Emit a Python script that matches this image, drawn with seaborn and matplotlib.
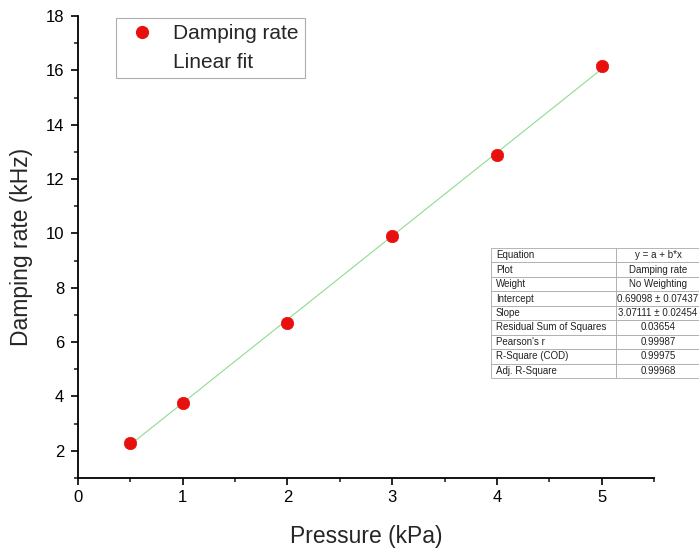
import numpy as np
import pandas as pd
import seaborn as sns
import matplotlib
matplotlib.use("Agg")
import matplotlib.pyplot as plt
from matplotlib.lines import Line2D
from matplotlib.ticker import MultipleLocator

pressure = [0.5, 1, 2, 3, 4, 5]
damping = [2.30, 3.76, 6.72, 9.90, 12.90, 16.15]
fit_a = 0.69098
fit_b = 3.07111
table_labels = ["Equation", "Plot", "Weight", "Intercept", "Slope",
                "Residual Sum of Squares", "Pearson's r", "R-Square (COD)", "Adj. R-Square"]
table_values = ["y = a + b*x", "Damping rate", "No Weighting", "0.69098 \u00b1 0.07437",
                "3.07111 \u00b1 0.02454", "0.03654", "0.99987", "0.99975", "0.99968"]

sns.set_style("ticks")
plt.rcParams['font.family'] = ['Liberation Sans', 'DejaVu Sans']

df = pd.DataFrame({"Pressure": pressure, "Damping": damping})
fit_x = np.array([pressure[0], pressure[-1]])
fit_df = pd.DataFrame({"Pressure": fit_x, "Fit": fit_a + fit_b * fit_x})

fig = plt.figure(figsize=(6.99, 5.52), dpi=100)
ax = fig.add_axes([78/699, 1-478/552, 576/699, 462/552])

sns.lineplot(data=fit_df, x="Pressure", y="Fit", ax=ax, color="#8fdc8f", lw=0.8, zorder=2)
sns.scatterplot(data=df, x="Pressure", y="Damping", ax=ax, color="#e8100f", s=80,
                edgecolor="#e8100f", linewidth=0.5, zorder=3)

ax.set_xlim(0, 5.5)
ax.set_ylim(1, 18)
ax.xaxis.set_major_locator(MultipleLocator(1))
ax.xaxis.set_minor_locator(MultipleLocator(0.5))
ax.yaxis.set_major_locator(MultipleLocator(2))
ax.yaxis.set_minor_locator(MultipleLocator(1))
ax.set_yticks(range(2, 19, 2))
ax.tick_params(which='major', direction='out', length=5, width=1.2, labelsize=12, colors='black', pad=4)
ax.tick_params(axis='y', which='major', pad=5)
ax.tick_params(which='minor', direction='out', length=3, width=1.2)
for s in ['top', 'right']:
    ax.spines[s].set_visible(False)
for s in ['left', 'bottom']:
    ax.spines[s].set_linewidth(1.3)
    ax.spines[s].set_color('black')

ax.set_xlabel("Pressure (kPa)", fontsize=16.5, labelpad=14)
ax.set_ylabel("Damping rate (kHz)", fontsize=16.5, labelpad=9)

handles = [Line2D([], [], marker='o', color='#e8100f', ls='none', markersize=8.5),
           Line2D([], [], color='#8fdc8f', lw=0)]
leg = ax.legend(handles, ["Damping rate", "Linear fit"], loc='upper left',
                bbox_to_anchor=((116-78)/576, 1.0 - 2/462), borderaxespad=0,
                fontsize=15, frameon=True,
                fancybox=False, edgecolor='#999999', handletextpad=0.54, borderpad=0.3,
                labelspacing=0.45, handlelength=1.9)
leg.get_frame().set_linewidth(0.8)

cells = [[l, v] for l, v in zip(table_labels, table_values)]
tbl = ax.table(cellText=cells, cellLoc='left', colWidths=[125/576, 84/576],
               bbox=[(491-78)/576, (478-378)/462, 209/576, 130/462])
tbl.auto_set_font_size(False)
tbl.set_fontsize(7)
for (r, c), cell in tbl.get_celld().items():
    cell.set_edgecolor('#aaaaaa')
    cell.set_linewidth(0.6)
    cell.set_facecolor('white')
    cell.set_clip_on(False)
    cell.PAD = 0.04
    cell.get_text().set_color('#222222')
    if c == 1:
        cell.get_text().set_ha('center')
        cell._loc = 'center'
tbl.set_zorder(5)

fig.savefig("out.png", dpi=100)
